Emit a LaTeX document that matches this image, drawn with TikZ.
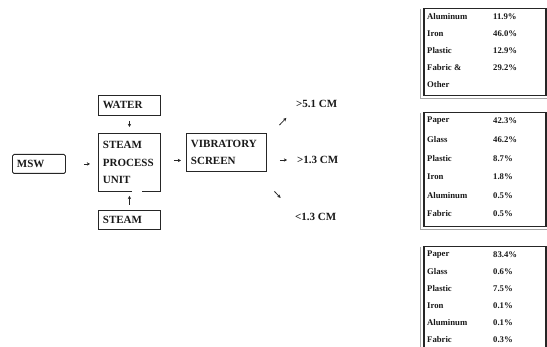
\documentclass[tikz,border=0pt]{standalone}
\usepackage{fontspec}
\setmainfont{Liberation Serif}
\usetikzlibrary{arrows.meta}
\begin{document}
\begin{tikzpicture}[x=1pt,y=-1pt,
  every node/.style={text=black!90},
  flowbox/.style={draw=black!85, line width=0.9pt, rectangle, anchor=north west,
    inner xsep=4.5pt, inner ysep=0pt, align=left,
    font=\bfseries\fontsize{11}{17.5}\selectfont},
  lbl/.style={anchor=west, inner sep=0pt, font=\bfseries\fontsize{11}{13}\selectfont},
  arr/.style={line width=0.8pt, draw=black!85, -{Stealth[length=3.2pt,width=3.4pt]}},
  tbox/.style={draw=black!85, line width=1.5pt, rectangle, anchor=north west, inner sep=0pt},
  shade/.style={draw=black!35, line width=0.6pt},
  cell/.style={anchor=west, inner sep=0pt, font=\bfseries\fontsize{8.7}{10}\selectfont}]
\useasboundingbox (0,0) rectangle (547,347);
\clip (0,0) rectangle (547,347);

% left flow
\node[flowbox, minimum width=53pt, minimum height=19pt, text width=44pt, rounded corners=1.5pt] (msw) at (12,154) {MSW};
\node[flowbox, minimum width=62pt, minimum height=20pt, text width=53pt] (water) at (98,95) {WATER};
\node[flowbox, draw=none, minimum width=62pt, minimum height=58pt, text width=53pt] (unit) at (98,133) {STEAM\\PROCESS\\UNIT};
\draw[black!85, line width=0.9pt] ([xshift=34pt]unit.south west) -- (unit.south west) -- (unit.north west) -- (unit.north east) -- (unit.south east) -- ++(-19,0);
\node[flowbox, minimum width=62pt, minimum height=19pt, text width=53pt] (steam) at (98,210) {STEAM};
\node[flowbox, minimum width=80pt, minimum height=38pt, text width=71pt] (vib) at (186,133) {VIBRATORY\\SCREEN};

\node[lbl] (l1) at (296,104) {>5.1 CM};
\node[lbl] (l2) at (297,160) {>1.3 CM};
\node[lbl] (l3) at (295,217) {<1.3 CM};

\draw[arr, shorten <=18pt, shorten >=8pt] (msw.east) -- (msw.east -| unit.west);
\draw[arr, shorten <=5pt, shorten >=6pt] (water.south) -- (unit.north);
\draw[arr, shorten <=5pt, shorten >=4pt] (steam.north) -- (unit.south);
\draw[arr, shorten <=13pt, shorten >=5pt] ([yshift=2pt]unit.east) -- ([yshift=2pt]unit.east -| vib.west);
\draw[arr, shorten <=13pt, shorten >=10pt] (vib.east |- l2.west) -- (l2.west);
\draw[arr, shorten <=18pt, shorten >=14pt] ([yshift=-5pt]vib.north east) -- (l1.south west);
\draw[arr, shorten <=27pt, shorten >=21pt] ([xshift=-11pt]vib.south east) -- (l3.north west);

% right tables
\node[tbox, minimum width=122pt, minimum height=87pt] (t1) at (423,8) {};
\node[tbox, minimum width=122pt, minimum height=114pt] (t2) at (423,112) {};
\node[tbox, minimum width=122pt, minimum height=110pt] (t3) at (423,246) {};
\draw[shade] (420.5,9) -- (420.5,98) -- (547,98);
\draw[shade] (420.5,113) -- (420.5,229) -- (547,229);
\draw[shade] (420.5,247) -- (420.5,350);

\foreach \n/\p [count=\i] in {Aluminum/11.9\%, Iron/46.0\%, Plastic/12.9\%, Fabric \&/29.2\%, Other/{}}{
  \node[cell] (t1n\i) at (427,{17+16.8*(\i-1)}) {\n};
  \node[cell] (t1p\i) at (493,{17+16.8*(\i-1)}) {\p};
}
\foreach \n/\p [count=\i] in {Paper/42.3\%, Glass/46.2\%, Plastic/8.7\%, Iron/1.8\%, Aluminum/0.5\%, Fabric/0.5\%}{
  \node[cell] (t2n\i) at (427,{121+18.6*(\i-1)}) {\n};
  \node[cell] (t2p\i) at (493,{121+18.6*(\i-1)}) {\p};
}
\foreach \n/\p [count=\i] in {Paper/83.4\%, Glass/0.6\%, Plastic/7.5\%, Iron/0.1\%, Aluminum/0.1\%, Fabric/0.3\%}{
  \node[cell] (t3n\i) at (427,{255+17*(\i-1)}) {\n};
  \node[cell] (t3p\i) at (493,{255+17*(\i-1)}) {\p};
}
\end{tikzpicture}
\end{document}
